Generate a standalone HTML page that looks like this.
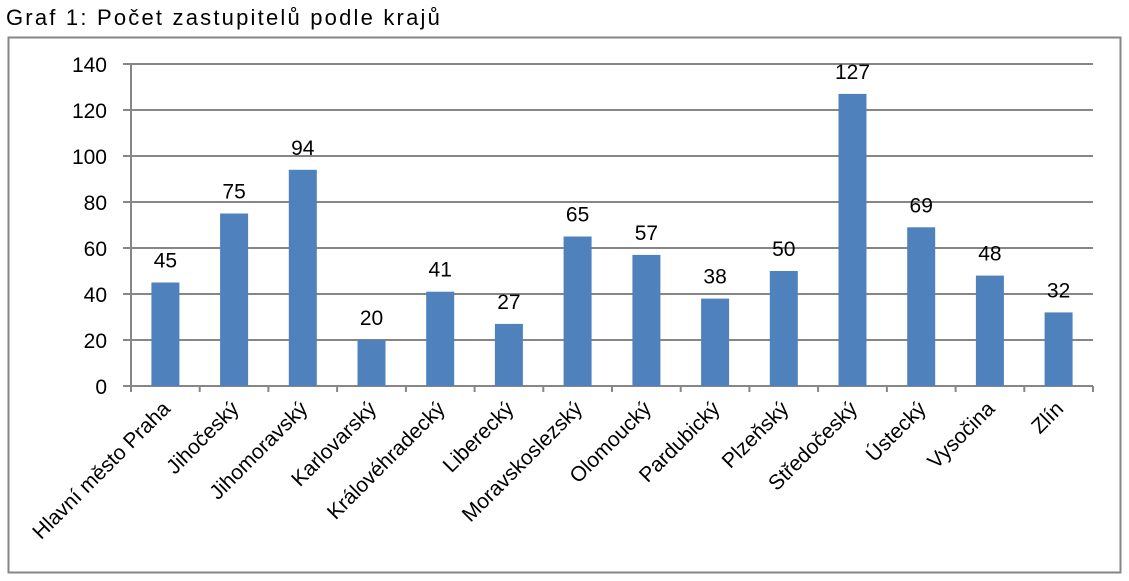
<!DOCTYPE html>
<html><head><meta charset="utf-8"><style>
html,body{margin:0;padding:0;background:#fff;}
svg{display:block;font-family:"Liberation Sans",sans-serif;}
</style></head><body>
<svg width="1129" height="581" viewBox="0 0 1129 581" xmlns="http://www.w3.org/2000/svg">
<text x="6" y="25" font-size="22" letter-spacing="2.2" fill="#000">Graf 1: Počet zastupitelů podle krajů</text>
<rect x="8.5" y="37.5" width="1112" height="535" fill="#fff" stroke="#868686" stroke-width="2"/>
<g stroke="#868686" stroke-width="2">
<line x1="123" y1="64" x2="1093" y2="64"/>
<line x1="123" y1="110" x2="1093" y2="110"/>
<line x1="123" y1="156" x2="1093" y2="156"/>
<line x1="123" y1="202" x2="1093" y2="202"/>
<line x1="123" y1="248" x2="1093" y2="248"/>
<line x1="123" y1="294" x2="1093" y2="294"/>
<line x1="123" y1="340" x2="1093" y2="340"/>
<line x1="123" y1="386" x2="1093" y2="386"/>
<line x1="131" y1="64" x2="131" y2="392"/>
<line x1="199.7" y1="386" x2="199.7" y2="392"/><line x1="268.4" y1="386" x2="268.4" y2="392"/>
<line x1="337.1" y1="386" x2="337.1" y2="392"/><line x1="405.9" y1="386" x2="405.9" y2="392"/>
<line x1="474.6" y1="386" x2="474.6" y2="392"/><line x1="543.3" y1="386" x2="543.3" y2="392"/>
<line x1="612" y1="386" x2="612" y2="392"/><line x1="680.7" y1="386" x2="680.7" y2="392"/>
<line x1="749.4" y1="386" x2="749.4" y2="392"/><line x1="818.1" y1="386" x2="818.1" y2="392"/>
<line x1="886.9" y1="386" x2="886.9" y2="392"/><line x1="955.6" y1="386" x2="955.6" y2="392"/>
<line x1="1024.3" y1="386" x2="1024.3" y2="392"/><line x1="1093" y1="386" x2="1093" y2="392"/>
</g>
<g font-size="21" text-anchor="end" fill="#000">
<text x="107" y="72">140</text><text x="107" y="118">120</text><text x="107" y="164">100</text>
<text x="107" y="210">80</text><text x="107" y="256">60</text><text x="107" y="302">40</text>
<text x="107" y="348">20</text><text x="107" y="394">0</text>
</g>
<g fill="#4f81bd">
<rect x="151.4" y="282.5" width="28" height="103.5"/>
<rect x="220.1" y="213.5" width="28" height="172.5"/>
<rect x="288.8" y="169.8" width="28" height="216.2"/>
<rect x="357.5" y="340" width="28" height="46"/>
<rect x="426.2" y="291.7" width="28" height="94.3"/>
<rect x="494.9" y="323.9" width="28" height="62.1"/>
<rect x="563.6" y="236.5" width="28" height="149.5"/>
<rect x="632.4" y="254.9" width="28" height="131.1"/>
<rect x="701.1" y="298.6" width="28" height="87.4"/>
<rect x="769.8" y="271" width="28" height="115"/>
<rect x="838.5" y="93.9" width="28" height="292.1"/>
<rect x="907.2" y="227.3" width="28" height="158.7"/>
<rect x="975.9" y="275.6" width="28" height="110.4"/>
<rect x="1044.6" y="312.4" width="28" height="73.6"/>
</g>
<g font-size="21" text-anchor="middle" fill="#000">
<text x="165.4" y="267.5">45</text>
<text x="234.1" y="198.5">75</text>
<text x="302.8" y="154.8">94</text>
<text x="371.5" y="325">20</text>
<text x="440.2" y="276.7">41</text>
<text x="508.9" y="308.9">27</text>
<text x="577.6" y="221.5">65</text>
<text x="646.4" y="239.9">57</text>
<text x="715.1" y="283.6">38</text>
<text x="783.8" y="256">50</text>
<text x="852.5" y="78.9">127</text>
<text x="921.2" y="212.3">69</text>
<text x="989.9" y="260.6">48</text>
<text x="1058.6" y="297.4">32</text>
</g>
<g font-size="21" text-anchor="end" fill="#000">
<text x="171.4" y="410" transform="rotate(-45 171.4 410)">Hlavní město Praha</text>
<text x="240.1" y="410" transform="rotate(-45 240.1 410)">Jihočeský</text>
<text x="308.8" y="410" transform="rotate(-45 308.8 410)">Jihomoravský</text>
<text x="377.5" y="410" transform="rotate(-45 377.5 410)">Karlovarský</text>
<text x="446.2" y="410" transform="rotate(-45 446.2 410)">Královéhradecký</text>
<text x="514.9" y="410" transform="rotate(-45 514.9 410)">Liberecký</text>
<text x="583.6" y="410" transform="rotate(-45 583.6 410)">Moravskoslezský</text>
<text x="652.4" y="410" transform="rotate(-45 652.4 410)">Olomoucký</text>
<text x="721.1" y="410" transform="rotate(-45 721.1 410)">Pardubický</text>
<text x="789.8" y="410" transform="rotate(-45 789.8 410)">Plzeňský</text>
<text x="858.5" y="410" transform="rotate(-45 858.5 410)">Středočeský</text>
<text x="927.2" y="410" transform="rotate(-45 927.2 410)">Ústecký</text>
<text x="995.9" y="410" transform="rotate(-45 995.9 410)">Vysočina</text>
<text x="1064.6" y="410" transform="rotate(-45 1064.6 410)">Zlín</text>
</g>
</svg>
</body></html>
